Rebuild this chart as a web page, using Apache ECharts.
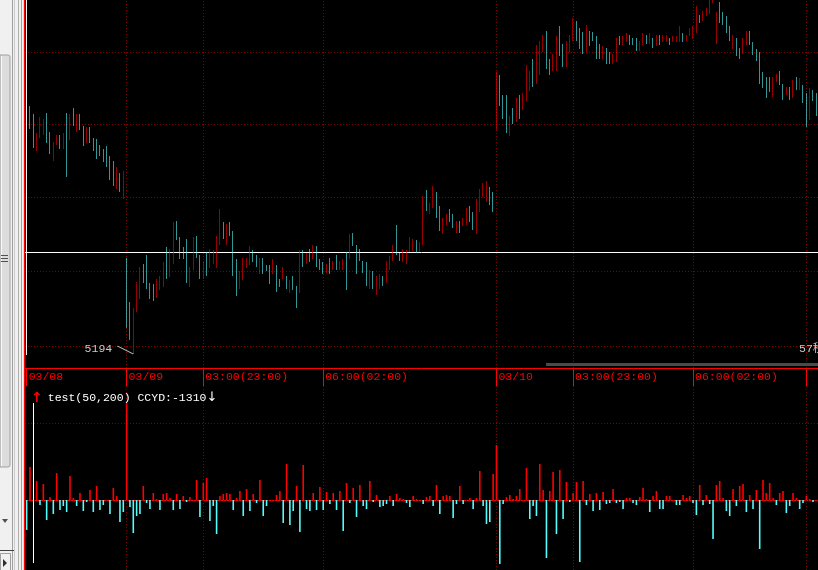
<!DOCTYPE html>
<html><head><meta charset="utf-8">
<script src="https://cdn.jsdelivr.net/npm/echarts@6/dist/echarts.min.js"></script>
<style>html,body{margin:0;padding:0;background:#000;overflow:hidden}#c{width:818px;height:570px}</style>
</head><body><div id="c"></div>
<script>
// ---- data ----
const barHigh = [
5448,5442,5434,5415,5431,5429,5435,5416,5406,5413,
5413,5415,5435,5434,5440,5434,5434,5422,5421,5421,
5410,5409,5403,5399,5402,5392,5387,5381,5375,5377,
5290,5246,5240,5266,5281,5284,5293,5265,5264,5269,
5272,5286,5301,5299,5326,5327,5311,5301,5309,5281,
5311,5312,5293,5287,5296,5299,5298,5312,5339,5326,
5324,5326,5317,5289,5277,5290,5290,5302,5298,5293,
5290,5290,5283,5283,5289,5283,5269,5281,5272,5268,
5272,5262,5298,5298,5295,5299,5303,5302,5289,5286,
5284,5290,5287,5293,5287,5289,5296,5314,5315,5303,
5299,5287,5286,5278,5277,5272,5274,5272,5287,5292,
5303,5323,5295,5299,5298,5311,5309,5308,5306,5352,
5358,5345,5362,5356,5342,5330,5334,5339,5334,5327,
5327,5330,5340,5342,5336,5349,5359,5365,5367,5361,
5356,5476,5473,5453,5453,5432,5440,5450,5453,5455,
5483,5477,5489,5503,5507,5513,5517,5489,5494,5512,
5522,5504,5507,5513,5530,5527,5520,5516,5523,5517,
5516,5512,5504,5502,5500,5496,5494,5510,5512,5512,
5515,5513,5510,5510,5507,5515,5513,5515,5510,5513,
5513,5513,5513,5510,5512,5512,5522,5515,5513,5520,
5522,5542,5533,5537,5540,5548,5553,5536,5546,5536,
5532,5522,5513,5510,5500,5510,5517,5517,5506,5499,
5496,5476,5471,5471,5471,5474,5477,5464,5461,5461,
5468,5471,5470,5463,5455,5460,5458,5455];
const barLow = [
5415,5419,5400,5397,5410,5413,5405,5394,5387,5403,
5399,5399,5371,5408,5422,5416,5418,5402,5405,5405,
5397,5389,5392,5386,5381,5368,5362,5359,5356,5349,
5220,5208,5194,5236,5249,5265,5259,5249,5247,5250,
5258,5261,5269,5271,5284,5308,5289,5289,5265,5261,
5278,5290,5269,5269,5272,5280,5284,5280,5303,5309,
5303,5312,5272,5252,5259,5268,5280,5283,5286,5281,
5274,5274,5277,5264,5274,5256,5261,5269,5259,5255,
5258,5240,5255,5281,5284,5286,5289,5281,5278,5274,
5275,5274,5278,5278,5278,5278,5258,5289,5302,5274,
5287,5275,5262,5259,5259,5253,5259,5262,5265,5278,
5287,5293,5287,5286,5284,5296,5297,5295,5296,5303,
5337,5334,5340,5330,5317,5314,5323,5326,5320,5315,
5315,5322,5323,5326,5318,5314,5336,5351,5346,5343,
5336,5418,5442,5429,5415,5412,5424,5426,5429,5438,
5447,5457,5461,5464,5473,5496,5479,5473,5477,5477,
5492,5481,5481,5496,5507,5507,5499,5494,5496,5502,
5507,5489,5489,5489,5484,5484,5484,5486,5503,5503,
5506,5503,5503,5497,5497,5503,5504,5504,5500,5502,
5503,5506,5506,5503,5506,5506,5506,5506,5507,5512,
5509,5515,5525,5527,5532,5534,5545,5504,5525,5523,
5515,5507,5499,5492,5489,5494,5503,5503,5493,5487,
5464,5460,5450,5456,5451,5466,5463,5448,5453,5448,
5450,5458,5458,5445,5421,5428,5447,5432];
const barUp = [
1,0,0,1,1,1,0,0,1,1, 0,1,0,1,0,1,0,0,1,0, 0,0,0,0,0,0,0,1,0,1,
0,0,1,1,1,0,0,0,0,1, 1,1,0,1,1,0,0,0,0,1, 1,0,0,1,0,1,1,1,1,0,
1,0,0,0,1,1,1,1,0,0, 1,0,0,0,1,0,0,1,0,1, 0,0,1,0,1,0,1,0,0,0,
1,0,1,0,1,1,0,1,0,0, 0,0,0,1,0,1,1,0,1,1, 1,0,0,1,1,1,1,0,1,1,
0,1,1,0,0,1,1,0,0,1, 0,1,1,0,0,1,1,1,1,0, 0,1,0,0,0,1,0,1,0,1,
1,1,0,1,1,1,0,0,1,1, 0,0,1,1,1,0,0,0,1,0, 0,0,0,1,0,0,1,1,0,1,
1,0,0,0,1,1,0,1,0,1, 0,1,1,0,1,1,1,0,1,1, 1,1,0,1,1,1,1,1,0,0,
0,0,1,0,0,1,1,0,0,0, 0,0,0,0,1,1,0,0,1,0, 1,0,1,0,0,1,0,0];
const ccyd = [
-30,33,0,19,-5,16,-20,3,-14,27, -10,-6,-12,24,2,-6,7,-11,-2,10,
-12,14,-10,-5,0,-14,12,4,-22,-12, 97,-7,-33,-16,-14,14,-3,-9,7,1,
-10,6,7,2,-10,6,-9,4,-2,3, 0,20,-17,17,22,-21,-6,-34,4,6,
7,6,-10,2,9,-16,11,-11,6,-3, 20,-16,-6,0,0,5,9,-23,36,-25,
-11,14,-32,35,-9,-11,7,-10,13,-10, 8,-4,7,-10,9,-31,17,-3,12,-17,
15,-6,-9,19,-2,5,-7,-6,-4,4, -6,6,2,1,-3,-7,4,1,0,-4,
3,4,-6,15,-14,4,5,4,-18,-4, 14,-4,0,2,-9,2,29,-6,-24,-22,
26,55,-64,-4,3,5,1,4,11,0, 32,-19,-6,-16,36,10,-58,9,28,-34,
30,-19,18,-2,7,18,-62,19,-5,6, -11,7,-10,8,-4,-3,11,-3,-2,-9,
2,2,-3,-5,3,12,1,-12,4,9, -9,-9,4,4,0,-5,-5,5,2,4,
-3,-15,15,-5,5,-4,-39,15,19,2, -11,-16,11,-6,14,16,-12,5,-9,10,
-49,20,7,17,2,-5,7,9,-13,-6, 7,2,-9,-3,4,1,-2,0];
const tickIndex = [0, 30, 53, 89, 141, 164, 200, 234];
const tickText = ['03/08','03/09','03:00(23:00)','06:00(02:00)','03/10','03:00(23:00)','06:00(02:00)',''];
const gridPrices = [5202, 5276.5, 5351, 5423.5, 5496];
const lastPrice = 5296;
const ccydGrid = [0, 77];
const cursorIndex = 2;
const cursorRange = [97, -63];
const titleText = 'test(50,200) CCYD:-1310';
const countdownText = '57秒';

// ---- build ----
const RED = '#ff0000', CYAN = '#54fcfc', DOT = '#840000';
const FONT = '"Liberation Mono","DejaVu Sans Mono",monospace';
const cats = barHigh.map((_, i) => String(i));
const ohlc = barHigh.map((h, i) => barUp[i] ? [barLow[i], h, barLow[i], h] : [h, barLow[i], barLow[i], h]);
let minIdx = 0;
barLow.forEach((v, i) => { if (v < barLow[minIdx]) minIdx = i; });
const minLow = barLow[minIdx];
const tickSet = new Set(tickIndex);
const dotStyle = {color: DOT, type: [1, 2], width: 1};
const vLines = tickIndex.slice(1).map(i => ({xAxis: String(i), lineStyle: dotStyle}));

const chart = echarts.init(document.getElementById('c'), null, {renderer: 'canvas'});
chart.setOption({
  animation: false,
  backgroundColor: '#000',
  title: {
    text: '{a|↑} {b|' + titleText + '}{c|↓}',
    left: 31, top: 389, padding: 0,
    textStyle: {fontWeight: 'normal', rich: {
      a: {color: RED, fontSize: 14, fontWeight: 'bold', fontFamily: 'DejaVu Sans'},
      b: {color: '#ffffff', fontSize: 11.5, fontWeight: 'normal', fontFamily: FONT},
      c: {color: '#ffffff', fontSize: 13, fontWeight: 'normal', fontFamily: 'DejaVu Sans'}
    }}
  },
  grid: [
    {left: 25, top: 0, width: 793.33, height: 368},
    {left: 25, top: 386, width: 793.33, height: 184}
  ],
  xAxis: [
    {type: 'category', gridIndex: 0, data: cats, boundaryGap: true,
     axisLine: {show: true, lineStyle: {color: RED, width: 1}},
     axisTick: {show: true, alignWithLabel: true, length: 18, interval: (i) => tickSet.has(i), lineStyle: {color: RED, width: 1}},
     axisLabel: {show: true, interval: (i) => tickSet.has(i),
       formatter: (v, i) => tickText[tickIndex.indexOf(i)] || '',
       align: 'left', color: RED, fontFamily: FONT, fontSize: 11.5, margin: 3, padding: [0, 0, 0, 2]},
     splitLine: {show: false}},
    {type: 'category', gridIndex: 1, data: cats, boundaryGap: true, position: 'top',
     axisLine: {show: true, lineStyle: {color: RED, width: 1}},
     axisTick: {show: false}, axisLabel: {show: false}, splitLine: {show: false}}
  ],
  yAxis: [
    {type: 'value', gridIndex: 0, min: 5180, max: 5548, show: false, splitLine: {show: false}},
    {type: 'value', gridIndex: 1, min: -70, max: 114, show: false, splitLine: {show: false}}
  ],
  series: [
    {type: 'candlestick', xAxisIndex: 0, yAxisIndex: 0, data: ohlc, barWidth: 1.3, z: 3,
     itemStyle: {color: RED, color0: CYAN, borderColor: RED, borderColor0: CYAN, borderWidth: 0.6},
     markLine: {silent: true, symbol: 'none', animation: false, label: {show: false}, z: 1,
       data: gridPrices.map(p => ({yAxis: p, lineStyle: dotStyle}))
         .concat(vLines)
         .concat([{yAxis: lastPrice, lineStyle: {color: '#ffffff', type: 'solid', width: 1}}])},
     markPoint: {silent: true, animation: false,
       symbol: 'path://M0,0L16,8', symbolSize: [16, 8], symbolOffset: [-8, -4],
       itemStyle: {color: 'transparent', borderColor: '#c8c8c8', borderWidth: 1},
       label: {show: true, formatter: String(minLow), position: [-32, 3], align: 'left', verticalAlign: 'middle',
         color: '#c8c8c8', fontFamily: FONT, fontSize: 11.5},
       data: [{coord: [String(minIdx), minLow], value: minLow}]}
    },
    {type: 'bar', xAxisIndex: 1, yAxisIndex: 1, data: ccyd, barWidth: 1.6, z: 3,
     itemStyle: {color: (p) => p.value >= 0 ? RED : CYAN},
     markLine: {silent: true, symbol: 'none', animation: false, label: {show: false}, z: 1,
       data: ccydGrid.map(v => ({yAxis: v, lineStyle: dotStyle}))
         .concat(vLines)
         .concat([[{coord: [String(cursorIndex), cursorRange[0]], lineStyle: {color: '#ffffff', type: 'solid', width: 1}},
                   {coord: [String(cursorIndex), cursorRange[1]]}]])}
    }
  ],
  graphic: [
    {type: 'rect', z: 100, shape: {x: 0, y: 0, width: 24, height: 570}, style: {fill: '#f0f0f0'}},
    {type: 'rect', z: 101, shape: {x: 0, y: 55, width: 10, height: 412, r: [0, 2, 2, 0]}, style: {fill: '#dcdcdc', stroke: '#a0a0a0', lineWidth: 1}},
    {type: 'line', z: 102, shape: {x1: 1.5, y1: 56, x2: 1.5, y2: 466}, style: {stroke: '#f8f8f8', lineWidth: 1}},
    {type: 'line', z: 102, shape: {x1: 1, y1: 255.5, x2: 8, y2: 255.5}, style: {stroke: '#505050', lineWidth: 1}},
    {type: 'line', z: 102, shape: {x1: 1, y1: 258.5, x2: 8, y2: 258.5}, style: {stroke: '#505050', lineWidth: 1}},
    {type: 'line', z: 102, shape: {x1: 1, y1: 261.5, x2: 8, y2: 261.5}, style: {stroke: '#505050', lineWidth: 1}},
    {type: 'line', z: 101, shape: {x1: 12.5, y1: 0, x2: 12.5, y2: 570}, style: {stroke: '#a0a0a0', lineWidth: 1}},
    {type: 'line', z: 101, shape: {x1: 14.5, y1: 0, x2: 14.5, y2: 570}, style: {stroke: '#cccccc', lineWidth: 1}},
    {type: 'line', z: 101, shape: {x1: 18.5, y1: 0, x2: 18.5, y2: 570}, style: {stroke: '#b0b0b0', lineWidth: 1}},
    {type: 'line', z: 101, shape: {x1: 21.5, y1: 0, x2: 21.5, y2: 570}, style: {stroke: '#a0a0a0', lineWidth: 1}},
    {type: 'line', z: 101, shape: {x1: 23.5, y1: 0, x2: 23.5, y2: 570}, style: {stroke: '#d8d8d8', lineWidth: 1}},
    {type: 'polygon', z: 102, shape: {points: [[2, 519], [8, 519], [5, 523]]}, style: {fill: '#505050'}},
    {type: 'line', z: 102, shape: {x1: 0, y1: 550.5, x2: 14, y2: 550.5}, style: {stroke: '#404040', lineWidth: 1}},
    {type: 'rect', z: 102, shape: {x: 0.5, y: 553.5, width: 10, height: 17}, style: {fill: '#f0f0f0', stroke: '#a0a0a0', lineWidth: 1}},
    {type: 'polygon', z: 103, shape: {points: [[3, 559], [3, 567], [7, 563]]}, style: {fill: '#303030'}},
    {type: 'line', z: 105, shape: {x1: 24.5, y1: 0, x2: 24.5, y2: 570}, style: {stroke: RED, lineWidth: 1}},
    {type: 'line', z: 105, shape: {x1: 26.5, y1: 0, x2: 26.5, y2: 355}, style: {stroke: '#ffffff', lineWidth: 1}},
    {type: 'rect', z: 105, shape: {x: 546, y: 363, width: 272, height: 3}, style: {fill: '#4a4a4a'}},
    {type: 'text', z: 105, x: 799, y: 349, style: {text: countdownText, fill: '#c8c8c8', font: '11.5px "Liberation Mono","Noto Sans CJK SC",monospace', verticalAlign: 'middle'}}
  ]
});
</script>
</body></html>
